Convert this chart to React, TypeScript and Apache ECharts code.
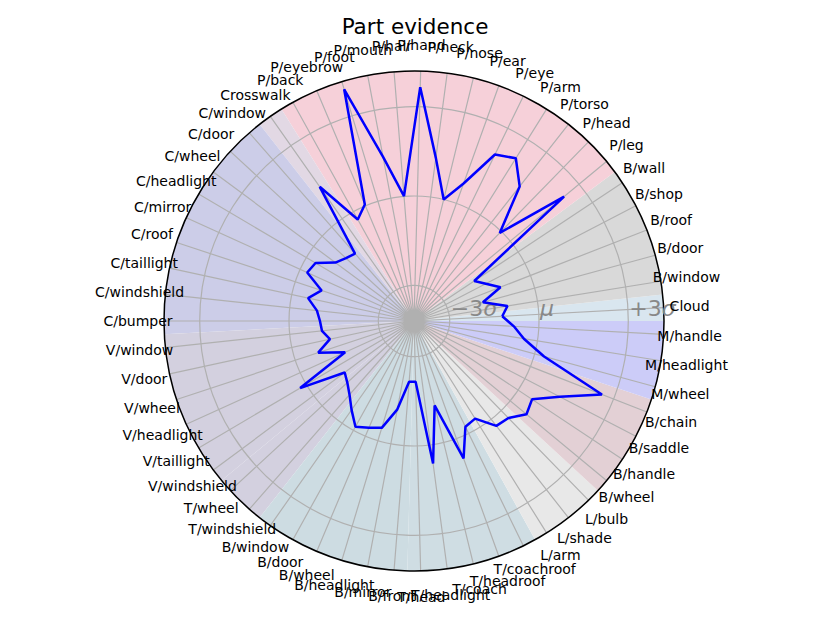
import React, { useEffect, useRef } from 'react';
import * as echarts from 'echarts';

const CATEGORIES = [
  'Cloud', 'B/window', 'B/door', 'B/roof', 'B/shop', 'B/wall',
  'P/leg', 'P/head', 'P/torso', 'P/arm', 'P/eye', 'P/ear', 'P/nose', 'P/neck', 'P/hand', 'P/hair',
  'P/mouth', 'P/foot', 'P/eyebrow', 'P/back', 'Crosswalk',
  'C/window', 'C/door', 'C/wheel', 'C/headlight', 'C/mirror', 'C/roof', 'C/taillight', 'C/windshield', 'C/bumper',
  'V/window', 'V/door', 'V/wheel', 'V/headlight', 'V/taillight', 'V/windshield',
  'T/wheel', 'T/windshield',
  'B/window', 'B/door', 'B/wheel', 'B/headlight', 'B/mirror', 'B/front',
  'T/head', 'T/headlight', 'T/coach', 'T/headroof', 'T/coachroof',
  'L/arm', 'L/shade', 'L/bulb',
  'B/wheel', 'B/handle', 'B/saddle', 'B/chain',
  'M/wheel', 'M/headlight', 'M/handle',
];

const VALUES = [
  -1.23, -1.02, -1.8, -1.08, -1.48, -1.77,
  2.35, -0.07, 1.55, 2.25, 2.02, 0.71, 0.0, 1.33, 3.66, 0.01,
  1.41, 3.93, 0.05, -0.3, 1.31,
  -1.19, -1.09, -0.91, -0.36, -0.26, -0.93, -0.56, -0.92, -1.04,
  -1.09, -1.31, -0.81, -1.66, 0.24, -1.3,
  -1.15, -0.91,
  -0.55, -0.14, -0.31, -0.45, -1.18, -2.15,
  -2.16, 0.63, -1.28, 0.71, -0.25,
  -0.33, 0.28, 0.35,
  0.71, 0.56, 1.32, 2.58,
  0.33, -0.46, -0.84,
];

const GROUP_START = [0, 1, 6, 20, 21, 30, 36, 38, 44, 49, 52, 56];
const GROUP_END = [0, 5, 19, 20, 29, 35, 37, 43, 48, 51, 55, 58];
const GROUP_COLORS = [
  '#d9e6ef', '#d9d9d9', '#f6d0d9', '#e2d8e4', '#cccde8', '#d3d0df',
  '#d3d0df', '#cddce2', '#cfdde3', '#e8e8e8', '#e3d0d5', '#ccccf8',
];

const R_TICKS = [-3, 0, 3];
const R_TICK_LABELS = ['−3{i|σ}', '{i|μ}', '+3{i|σ}'];
const R_MIN = -4.2;
const R_MAX = 4.2;

const FONT = 'DejaVu Sans';

export default function App() {
  const ref = useRef<HTMLDivElement>(null);
  useEffect(() => {
    if (!ref.current) return;
    const chart = echarts.init(ref.current, undefined, { renderer: 'svg' });
    const N = CATEGORIES.length;
    const lineData = VALUES.map((v, i) => [v, i]);
    lineData.push([VALUES[0], N]);

    const option: any = {
      animation: false,
      backgroundColor: '#ffffff',
      title: {
        text: 'Part evidence',
        left: 'center',
        top: 10,
        textStyle: { fontSize: 21.5, fontWeight: 'normal', color: '#000', fontFamily: FONT },
      },
      polar: { center: [414, 321], radius: 250 },
      angleAxis: {
        type: 'value',
        min: 0,
        max: N,
        interval: 1,
        startAngle: 180 / N,
        clockwise: false,
        z: 3,
        axisLine: { show: true, lineStyle: { color: '#000', width: 1.5 } },
        axisTick: { show: false },
        axisLabel: { show: false },
        splitLine: { show: true, lineStyle: { color: '#b0b0b0', width: 1.2 } },
      },
      radiusAxis: {
        type: 'value',
        min: R_MIN,
        max: R_MAX,
        axisLine: { show: false },
        axisTick: { show: false },
        axisLabel: { show: false },
        splitLine: { show: false },
      },
      series: [
        {
          type: 'custom',
          coordinateSystem: 'polar',
          z: 1,
          silent: true,
          data: GROUP_START.map((s, i) => [R_MAX, s, GROUP_END[i]]),
          renderItem: (params: any, api: any) => {
            const cs = params.coordSys;
            const i = params.dataIndex;
            const a0 = api.coord([R_MAX, GROUP_START[i] - 0.5])[3];
            const a1 = api.coord([R_MAX, GROUP_END[i] + 0.5])[3];
            return {
              type: 'sector',
              shape: { cx: cs.cx, cy: cs.cy, r0: 0, r: cs.r, startAngle: -a1, endAngle: -a0, clockwise: true },
              style: { fill: GROUP_COLORS[i] },
            };
          },
        },
        {
          type: 'custom',
          coordinateSystem: 'polar',
          z: 4,
          silent: true,
          data: R_TICKS.map((v) => [v, 0]),
          renderItem: (params: any, api: any) => {
            const cs = params.coordSys;
            const r = api.coord([R_TICKS[params.dataIndex], 0])[2];
            return {
              type: 'circle',
              shape: { cx: cs.cx, cy: cs.cy, r },
              style: { fill: 'none', stroke: '#b0b0b0', lineWidth: 1.2 },
            };
          },
        },
        {
          type: 'custom',
          coordinateSystem: 'polar',
          z: 6,
          silent: true,
          data: R_TICKS.map((v) => [v, -0.5]),
          renderItem: (params: any, api: any) => {
            const p = api.coord([R_TICKS[params.dataIndex], -0.5]);
            return {
              type: 'text',
              x: p[0] + 1,
              y: p[1] - 13,
              style: {
                text: R_TICK_LABELS[params.dataIndex],
                fill: '#888888',
                align: 'left',
                verticalAlign: 'middle',
                font: `22px ${FONT}`,
                rich: {
                  i: { fontStyle: 'italic', fontSize: 22, fontFamily: FONT, fill: '#888888' },
                },
              },
            };
          },
        },
        {
          type: 'line',
          coordinateSystem: 'polar',
          z: 8,
          symbol: 'none',
          silent: true,
          data: lineData,
          lineStyle: { color: '#0000ff', width: 2.5 },
        },
        {
          type: 'custom',
          coordinateSystem: 'polar',
          z: 9,
          silent: true,
          data: CATEGORIES.map((c, i) => [R_MAX, i]),
          renderItem: (params: any, api: any) => {
            const cs = params.coordSys;
            const a = api.coord([R_MAX, params.dataIndex])[3];
            const lr = cs.r + 26;
            return {
              type: 'text',
              x: cs.cx + lr * Math.cos(a),
              y: cs.cy - lr * Math.sin(a),
              style: {
                text: CATEGORIES[params.dataIndex],
                fill: '#000',
                align: 'center',
                verticalAlign: 'middle',
                font: `14px ${FONT}`,
              },
            };
          },
        },
      ],
    };
    chart.setOption(option);
    return () => chart.dispose();
  }, []);

  return (
    <div
      ref={ref}
      style={{ position: 'fixed', left: 0, top: 0, width: 830, height: 623, background: '#fff' }}
    />
  );
}
